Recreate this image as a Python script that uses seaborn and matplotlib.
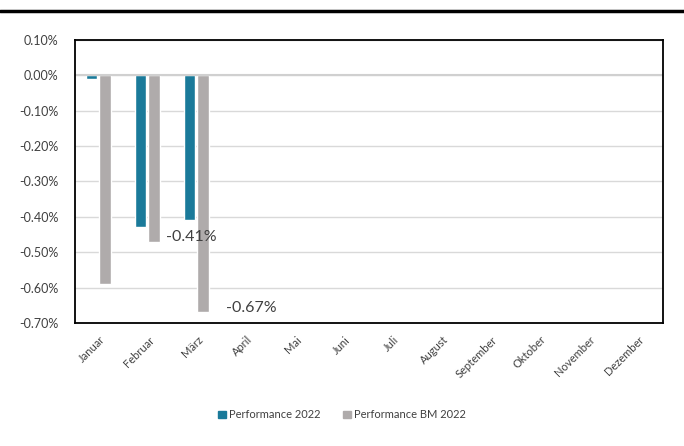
import matplotlib
matplotlib.use("Agg")
import matplotlib.pyplot as plt
import seaborn as sns
import pandas as pd
from matplotlib.lines import Line2D
from matplotlib.ticker import FuncFormatter

months = ["Januar", "Februar", "März", "April", "Mai", "Juni", "Juli",
          "August", "September", "Oktober", "November", "Dezember"]
series = ["Performance 2022", "Performance BM 2022"]
perf = [-0.01, -0.43, -0.41, None, None, None, None, None, None, None, None, None]
bm = [-0.59, -0.47, -0.67, None, None, None, None, None, None, None, None, None]
label_months = ["Februar", "März"]
label_values = [-0.47, -0.67]
label_texts = ["-0.41%", "-0.67%"]
yticks = [0.10, 0.0, -0.10, -0.20, -0.30, -0.40, -0.50, -0.60, -0.70]

rows = []
for m, p, b in zip(months, perf, bm):
    rows.append({"Monat": m, "Serie": series[0], "Wert": p})
    rows.append({"Monat": m, "Serie": series[1], "Wert": b})
df = pd.DataFrame(rows)

sns.set_theme(style="white")
plt.rcParams["font.family"] = ["Lato", "DejaVu Sans"]

fig = plt.figure(figsize=(6.84, 4.46), dpi=100)
ax = fig.add_axes([0.1096, 0.2758, 0.8597, 0.6345])

colors = {"Performance 2022": "#1A7A9A", "Performance BM 2022": "#AFABAB"}
sns.barplot(data=df, x="Monat", y="Wert", hue="Serie", order=months,
            hue_order=series, palette=colors, width=0.55, ax=ax,
            legend=True, saturation=1)

for patch in ax.patches:
    w = patch.get_width()
    if w > 0:
        patch.set_width(w * 0.82)

ax.set_ylim(-0.70, 0.10)
ax.set_yticks(yticks)
ax.yaxis.set_major_formatter(FuncFormatter(lambda v, _: f"{v:.2f}%"))
ax.set_xlim(-0.5, 11.5)
ax.grid(axis="y", color="#D9D9D9", linewidth=1)
ax.set_axisbelow(True)
ax.axhline(0, color="#D0D0D0", linewidth=1.5, zorder=1)
for s in ax.spines.values():
    s.set_color("black")
    s.set_linewidth(1.3)

ax.set_xlabel("")
ax.set_ylabel("")
ax.tick_params(axis="y", labelsize=9, colors="#404040", length=0, pad=12)
ax.tick_params(axis="x", labelsize=8, colors="#404040", length=0, pad=8)
for lab in ax.get_xticklabels():
    lab.set_rotation(45)
    lab.set_ha("right")
    lab.set_rotation_mode("anchor")

offsets = [(3, 3), (11, 3)]
for m, v, t, off in zip(label_months, label_values, label_texts, offsets):
    i = months.index(m)
    ax.annotate(t, xy=(i + 0.28, v), xytext=off, textcoords="offset points",
                ha="left", va="center", fontsize=11.5, color="#404040")

ax.legend_.remove()
handles = [plt.Rectangle((0, 0), 1, 1, color=colors[s]) for s in series]
fig.legend(handles, series, loc="center", bbox_to_anchor=(0.5, 0.07), ncol=2,
           frameon=False, fontsize=8, handlelength=0.7, handleheight=0.7,
           handletextpad=0.3, columnspacing=2.0, labelcolor="#404040")

fig.add_artist(Line2D([0, 1], [0.975, 0.975], transform=fig.transFigure,
                      color="black", linewidth=2.5))

fig.savefig("out.png", dpi=100)
